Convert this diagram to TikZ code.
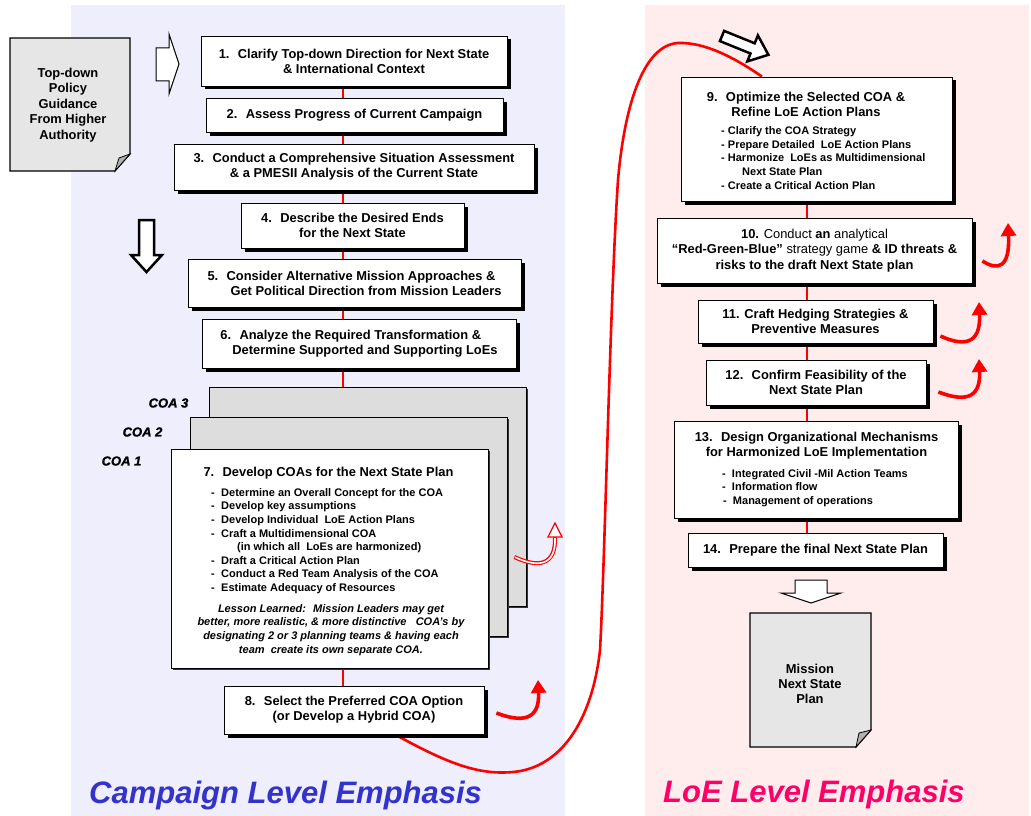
\documentclass[tikz,border=0pt]{standalone}
\usepackage{fontspec}
\setmainfont{Liberation Sans}
\newfontfamily\heavyital[FakeBold=1.2]{Liberation Sans Bold Italic}
\usetikzlibrary{shadows,arrows.meta,calc}
\definecolor{bluebg}{RGB}{238,238,253}
\definecolor{pinkbg}{RGB}{255,237,238}
\definecolor{campblue}{RGB}{51,51,204}
\definecolor{loepink}{RGB}{255,0,102}
\definecolor{docgray}{RGB}{230,230,230}
\definecolor{coagray}{RGB}{221,221,221}
\definecolor{foldgray}{RGB}{176,176,176}
\newcommand{\boxfont}{\bfseries\fontsize{12.9}{15}\selectfont}
\newcommand{\bulfont}{\bfseries\fontsize{11}{13.6}\selectfont}
\pgfdeclarelayer{back}
\pgfdeclarelayer{wires}
\pgfsetlayers{back,wires,main}
\tikzset{
  stepbox/.style={draw=black, line width=0.8pt, fill=white, inner sep=0pt, align=center, font=\boxfont,
    drop shadow={shadow xshift=3.5pt, shadow yshift=-3.5pt, fill=black, opacity=1}},
  coabox/.style={draw=black, line width=0.8pt, fill=coagray, inner sep=0pt,
    minimum width=317pt, minimum height=219pt,
    drop shadow={shadow xshift=2pt, shadow yshift=-2pt, fill=black!80, opacity=1}},
  link/.style={draw=red, line width=2.4pt},
  flow/.style={draw=red, line width=2.6pt},
  curly/.style={draw=red, line width=3.6pt, -{Triangle[length=13pt,width=15pt]}},
  hollowarrow/.style={draw=black, fill=white, line join=miter},
  doc/.style={draw=black, line width=1.2pt, fill=docgray},
  txt/.style={inner sep=0pt},
  coalabel/.style={inner sep=0pt, font=\heavyital\fontsize{13}{15}\selectfont},
  emph/.style={inner sep=0pt, anchor=base west, font=\bfseries\itshape\fontsize{31}{36}\selectfont},
}
\begin{document}
\begin{tikzpicture}[x=1pt,y=-1pt]
\useasboundingbox (0,0) rectangle (1031,816);
\begin{pgfonlayer}{back}
\fill[white] (0,0) rectangle (1031,816);
\fill[bluebg] (71,5) rectangle (565,816);
\fill[pinkbg] (645,5) rectangle (1029,816);
\end{pgfonlayer}

\coordinate (lx) at (343,0);
\coordinate (rx) at (807,0);

% ---------- left column ----------
\node[stepbox, minimum width=306pt, minimum height=50pt] (b1) at (354,61)
  {1.~ Clarify Top-down Direction for Next State\\\& International Context};
\node[stepbox, minimum width=297pt, minimum height=34pt] (b2) at (354.5,115)
  {2.~ Assess Progress of Current Campaign};
\node[stepbox, minimum width=360pt, minimum height=46pt] (b3) at (354,167)
  {3.~ Conduct a Comprehensive Situation Assessment\\\& a PMESII Analysis of the Current State};
\node[stepbox, minimum width=223pt, minimum height=45pt] (b4) at (352.5,225.5)
  {4.~ Describe the Desired Ends\\for the Next State};
\node[stepbox, align=left, minimum width=333pt, minimum height=48pt] (b5) at (354.5,283)
  {5.~ Consider Alternative Mission Approaches \&\\\hspace*{23pt}Get Political Direction from Mission Leaders};
\node[stepbox, align=left, minimum width=314pt, minimum height=49pt] (b6) at (359,343.5)
  {6.~ Analyze the Required Transformation \&\\\hspace*{12pt}Determine Supported and Supporting LoEs};

\node[coabox] (coa3) at (367.5,496.5) {};
\node[coabox] (coa2) at (348.5,526.5) {};
\node[coabox, fill=white] (b7) at (329.5,558.5) {};
\node[coalabel] (c3) at (168.5,403) {COA 3};
\node[coalabel] (c2) at (142.5,432) {COA 2};
\node[coalabel] (c1) at (121.5,461) {COA 1};

\node[txt, font=\boxfont] (t7) at (328.5,473) {7.~ Develop COAs for the Next State Plan};
\node[txt, font=\bulfont, anchor=west, align=left] (l7) at (211,541)
  {\makebox[10pt][l]{-}Determine an Overall Concept for the COA\\
   \makebox[10pt][l]{-}Develop key assumptions\\
   \makebox[10pt][l]{-}Develop Individual~ LoE Action Plans\\
   \makebox[10pt][l]{-}Craft a Multidimensional COA\\
   \hspace*{26pt}(in which all~ LoEs are harmonized)\\
   \makebox[10pt][l]{-}Draft a Critical Action Plan\\
   \makebox[10pt][l]{-}Conduct a Red Team Analysis of the COA\\
   \makebox[10pt][l]{-}Estimate Adequacy of Resources};
\node[txt, font=\bfseries\itshape\fontsize{11}{13.7}\selectfont, align=center] (ll7) at (331,630)
  {Lesson Learned:~ Mission Leaders may get\\
   better, more realistic, \& more distinctive~~ COA's by\\
   designating 2 or 3 planning teams \& having each\\
   team~ create its own separate COA.};

\node[stepbox, minimum width=260pt, minimum height=48pt] (b8) at (354,710)
  {8.~ Select the Preferred COA Option\\(or Develop a Hybrid COA)};

% ---------- right column ----------
\node[stepbox, minimum width=271pt, minimum height=124pt] (b9) at (816.5,139) {};
\node[txt, font=\boxfont, align=center] (t9) at (806,104.5)
  {9.~ Optimize the Selected COA \&\\Refine LoE Action Plans};
\node[txt, font=\bulfont, anchor=west, align=left] (l9) at (721,158)
  {- Clarify the COA Strategy\\
   - Prepare Detailed~ LoE Action Plans\\
   - Harmonize~ LoEs as Multidimensional\\
   \hspace*{21pt}Next State Plan\\
   - Create a Critical Action Plan};

\node[stepbox, font=\fontsize{12.9}{15.4}\selectfont, minimum width=315pt, minimum height=65pt] (b10) at (814.5,250.5)
  {\textbf{10.} Conduct \textbf{an} analytical\\
   \textbf{``Red-Green-Blue''} strategy game \textbf{\& ID threats \&}\\
   \textbf{risks to the draft Next State plan}};
\node[stepbox, minimum width=235pt, minimum height=43pt] (b11) at (815.5,321.5)
  {11. Craft Hedging Strategies \&\\Preventive Measures};
\node[stepbox, minimum width=220pt, minimum height=45pt] (b12) at (816,382.5)
  {12.~ Confirm Feasibility of the\\Next State Plan};
\node[stepbox, minimum width=284pt, minimum height=97pt] (b13) at (816,469.5) {};
\node[txt, font=\boxfont, align=center] (t13) at (816.5,445.5)
  {13.~ Design Organizational Mechanisms\\for Harmonized LoE Implementation};
\node[txt, font=\bulfont, anchor=west, align=left] (l13) at (722,488)
  {-~ Integrated Civil -Mil Action Teams\\
   -~ Information flow\\
   \hspace*{1pt}-~ Management of operations};
\node[stepbox, minimum width=255pt, minimum height=34pt] (b14) at (815.5,550)
  {14.~ Prepare the final Next State Plan};

% ---------- documents ----------
\draw[doc] (10,38) -- (130,38) -- (130,154) -- (115,171) -- (10,171) -- cycle;
\filldraw[fill=foldgray, draw=black, line width=0.8pt] (115,171) -- (119,158) -- (130,154) -- cycle;
\node[txt, font=\bfseries\fontsize{12.9}{15.5}\selectfont, align=center] (tdoc) at (68,105)
  {Top-down\\Policy\\Guidance\\From Higher\\Authority};

\draw[doc] (750,613) -- (871,613) -- (871,730) -- (856,747) -- (750,747) -- cycle;
\filldraw[fill=foldgray, draw=black, line width=0.8pt] (856,747) -- (859,733) -- (871,730) -- cycle;
\node[txt, font=\bfseries\fontsize{12.9}{15}\selectfont, align=center] (mdoc) at (810,684)
  {Mission\\Next State\\Plan};

% ---------- hollow arrows ----------
\draw[hollowarrow, line width=1pt] (156,48) -- (169,48) -- (169,34) -- (179,64) -- (169,94) -- (169,81) -- (156,81) -- cycle;
\draw[hollowarrow, line width=2.5pt] (139,220) -- (154,220) -- (154,255) -- (162,255) -- (146.5,272) -- (131,255) -- (139,255) -- cycle;
\draw[hollowarrow, line width=2.5pt] (719.9,41.1) -- (750.5,53.5) -- (747.3,61.4) -- (768.4,54.8) -- (757.9,35.4) -- (754.7,43.3) -- (724.1,30.9) -- cycle;
\draw[hollowarrow, line width=1pt] (795,580) -- (827,580) -- (827,593) -- (841,593) -- (811,603) -- (781,593) -- (795,593) -- cycle;

% ---------- connectors ----------
\begin{pgfonlayer}{wires}
\draw[link] (b1.south -| lx) -- (b8.north -| lx);
\draw[link] (b9.south -| rx) -- (b14.north -| rx);
\draw[flow] ([xshift=41pt]b8.south) .. controls (450,765) and (480,775) .. (513,772)
  .. controls (560,768) and (592,722) .. (600,650)
  .. controls (605,560) and (610,300) .. (618,180)
  .. controls (625,100) and (645,45) .. (678,43)
  .. controls (705,42) and (735,58) .. ([xshift=-54.5pt]b9.north);
\end{pgfonlayer}

% ---------- feedback arrows ----------
\coordinate (r8) at (538,680);
\coordinate (r10) at (1008,223);
\coordinate (r11) at (979,302);
\coordinate (r12) at (979,359);
\coordinate (r7) at (555,537);
\draw[curly] ([shift={(12,3)}]b8.east) .. controls (520,722) and (540,722) .. (r8);
\draw[curly] ([shift={(10,10.5)}]b10.east) .. controls (998,271) and (1010,268) .. (r10);
\draw[curly] ([shift={(7,14.5)}]b11.east) .. controls (962,346) and (981,346) .. (r11);
\draw[curly] ([shift={(12,9.5)}]b12.east) .. controls (962,401) and (981,401) .. (r12);
\draw[draw=red, line width=4pt] ([shift={(26,-1.5)}]b7.east) .. controls (538,568) and (556,566) .. (r7);
\draw[draw=white, line width=1.6pt] ([shift={(26.6,-1.3)}]b7.east) .. controls (538,568) and (556,566) .. ([yshift=-1pt]r7);
\filldraw[fill=white, draw=red, line width=1.2pt] (548,537) -- (555,523) -- (562,537) -- cycle;

% ---------- titles ----------
\node[emph, text=campblue] (camp) at (89,803) {Campaign Level Emphasis};
\node[emph, text=loepink] (loe) at (663,802) {LoE Level Emphasis};
\end{tikzpicture}
\end{document}
